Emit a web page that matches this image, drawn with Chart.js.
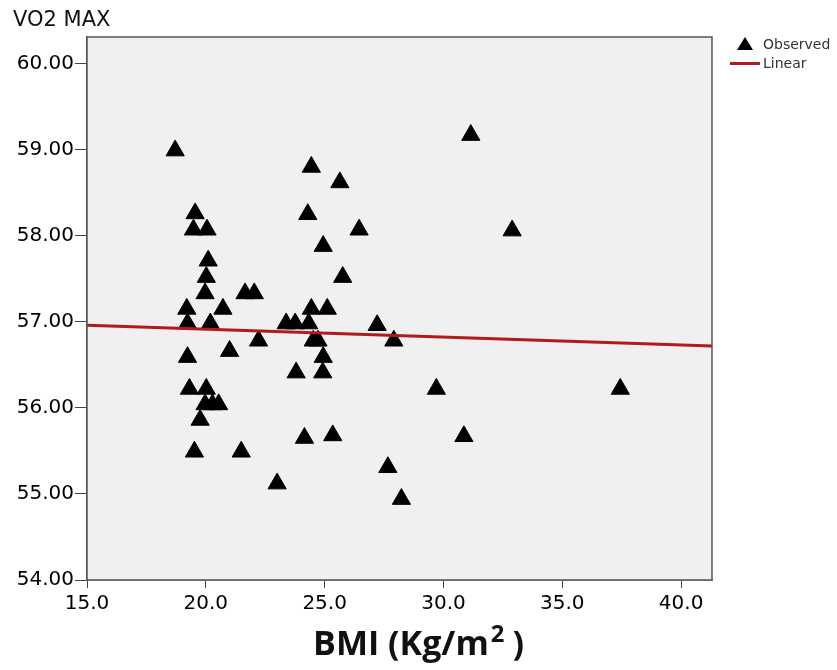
<!DOCTYPE html>
<html>
<head>
<meta charset="utf-8">
<script src="https://cdn.jsdelivr.net/npm/chart.js@4"></script>
<style>
    body { margin: 0; background: #fff; }
    #wrap { position: relative; width: 837px; height: 670px; }
    #yTitle { position: absolute; left: 13px; top: 7px; font: 21px "DejaVu Sans", sans-serif; color: #111; }
    #xTitle { position: absolute; left: 0; width: 837px; top: 619px; text-align: center;
              font: bold 34px "Open Sans", sans-serif; color: #111; }
    #xTitle sup { font-size: 0.7em; vertical-align: 0.55em; line-height: 0; margin: 0 8px 0 2px; }
    .legend { position: absolute; font: 14px "DejaVu Sans", sans-serif; color: #333; }
    .tri { position: absolute; width: 0; height: 0; border-left: 8px solid transparent; border-right: 8px solid transparent; border-bottom: 13px solid #000; }
    .redline { position: absolute; width: 30px; height: 3px; background: #b01c1c; }
</style>
</head>
<body>
<div id="wrap">
    <canvas id="chart" width="837" height="670"></canvas>
    <div id="yTitle">VO2 MAX</div>
    <div id="xTitle">BMI (Kg/m<sup>2</sup>)</div>
    <div class="tri" style="left:737px; top:37px;"></div>
    <div class="legend" style="left:763px; top:36px;">Observed</div>
    <div class="redline" style="left:730px; top:62px;"></div>
    <div class="legend" style="left:763px; top:55px;">Linear</div>
</div>
<script>
const bmi = [
    18.71, 31.15, 32.89, 24.44, 25.64, 19.55, 19.48, 20.05, 24.29, 26.45,
    24.94, 20.10, 20.02, 25.76, 19.97, 21.65, 22.04, 19.20, 20.72, 24.44,
    25.11, 19.23, 20.19, 23.38, 23.76, 24.33, 27.21, 22.22, 24.52, 24.72,
    27.91, 21.00, 19.23, 24.94, 23.80, 24.92, 19.31, 20.02, 29.70, 37.44,
    19.97, 20.28, 20.54, 19.76, 24.15, 25.34, 30.86, 19.52, 21.49, 23.00,
    27.66, 28.23
];
const vo2 = [
    58.99, 59.17, 58.06, 58.80, 58.62, 58.26, 58.07, 58.07, 58.25, 58.07,
    57.88, 57.71, 57.52, 57.52, 57.33, 57.33, 57.33, 57.15, 57.15, 57.15,
    57.15, 56.98, 56.98, 56.98, 56.98, 56.98, 56.96, 56.78, 56.78, 56.78,
    56.78, 56.66, 56.59, 56.59, 56.41, 56.41, 56.22, 56.22, 56.22, 56.22,
    56.04, 56.04, 56.04, 55.86, 55.65, 55.68, 55.67, 55.49, 55.49, 55.12,
    55.31, 54.94
];

// linear fit end points
const fitX = [15.0, 41.3];
const fitY = [56.96, 56.72];

const xTicks = [15, 20, 25, 30, 35, 40];
const yTicks = [54, 55, 56, 57, 58, 59, 60];

const observed = bmi.map((x, i) => ({ x: x, y: vo2[i] }));
const linear = fitX.map((x, i) => ({ x: x, y: fitY[i] }));

// grey plot area with a frame round it
const plotBox = {
    id: "plotBox",
    beforeDatasetsDraw(chart) {
        const a = chart.chartArea;
        const ctx = chart.ctx;
        ctx.save();
        ctx.fillStyle = "#f0f0f0";
        ctx.fillRect(a.left, a.top, a.right - a.left, a.bottom - a.top);
        ctx.restore();
    },
    afterDraw(chart) {
        const a = chart.chartArea;
        const ctx = chart.ctx;
        ctx.save();
        ctx.strokeStyle = "#555";
        ctx.lineWidth = 1.5;
        ctx.strokeRect(a.left, a.top, a.right - a.left, a.bottom - a.top);
        ctx.restore();
    }
};

const tickFont = { family: "DejaVu Sans", size: 20 };

new Chart(document.getElementById("chart"), {
    type: "scatter",
    data: {
        datasets: [
            {
                label: "Linear",
                data: linear,
                showLine: true,
                borderColor: "#b01c1c",
                borderWidth: 3,
                pointRadius: 0,
                order: 0
            },
            {
                label: "Observed",
                data: observed,
                pointStyle: "triangle",
                pointRadius: 10.5,
                pointHoverRadius: 10.5,
                backgroundColor: "#000",
                borderColor: "#000",
                borderWidth: 1,
                order: 1
            }
        ]
    },
    options: {
        responsive: false,
        animation: false,
        layout: { padding: { left: 0, top: 37, right: 125, bottom: 0 } },
        plugins: {
            legend: { display: false },
            tooltip: { enabled: false }
        },
        scales: {
            x: {
                type: "linear",
                min: 15,
                max: 41.3,
                afterFit: (scale) => { scale.height = 90; },
                afterBuildTicks: (scale) => { scale.ticks = xTicks.map(v => ({ value: v })); },
                ticks: {
                    font: tickFont,
                    color: "#000",
                    padding: 4,
                    maxRotation: 0,
                    callback: (v) => Number(v).toFixed(1)
                },
                grid: { drawOnChartArea: false, drawTicks: true, tickLength: 8, color: "#444" },
                border: { display: true, color: "#555", width: 1.5 }
            },
            y: {
                type: "linear",
                min: 54,
                max: 60.31,
                afterFit: (scale) => { scale.width = 87; },
                afterBuildTicks: (scale) => { scale.ticks = yTicks.map(v => ({ value: v })); },
                ticks: {
                    font: tickFont,
                    color: "#000",
                    padding: 1,
                    callback: (v) => Number(v).toFixed(2)
                },
                grid: { drawOnChartArea: false, drawTicks: true, tickLength: 12, color: "#444" },
                border: { display: true, color: "#555", width: 1.5 }
            }
        }
    },
    plugins: [plotBox]
});
</script>
</body>
</html>
